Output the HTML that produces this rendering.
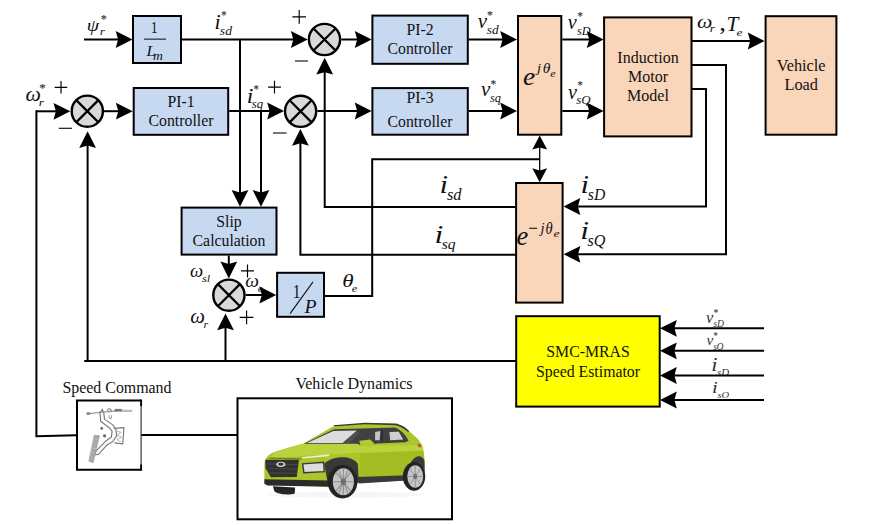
<!DOCTYPE html>
<html><head><meta charset="utf-8"><style>
html,body{margin:0;padding:0;background:#fff;width:884px;height:525px;overflow:hidden}
svg{display:block;font-family:"Liberation Serif",serif}
</style></head><body>
<svg width="884" height="525" viewBox="0 0 884 525">
<rect width="884" height="525" fill="#fff"/>
<path d="M84,39.5 L118.7,39.5" fill="none" stroke="#000" stroke-width="2.0" stroke-linejoin="miter" stroke-linecap="butt"/>
<path d="M132.50,39.50 L115.70,47.90 L118.10,39.50 L115.70,31.10Z" fill="#000"/>
<rect x="133.0" y="16.0" width="48.0" height="47.0" fill="#c6d9f1" stroke="#000" stroke-width="2.0"/>
<path d="M182,39.5 L293.9,39.5" fill="none" stroke="#000" stroke-width="2.0" stroke-linejoin="miter" stroke-linecap="butt"/>
<path d="M307.70,39.50 L290.90,47.90 L293.30,39.50 L290.90,31.10Z" fill="#000"/>
<path d="M240,39.5 L240.0,193.0" fill="none" stroke="#000" stroke-width="2.0" stroke-linejoin="miter" stroke-linecap="butt"/>
<path d="M240.00,206.80 L231.60,190.00 L240.00,192.40 L248.40,190.00Z" fill="#000"/>
<circle cx="324.5" cy="39.5" r="15.600000000000001" fill="#d9d9d9" stroke="#000" stroke-width="2.4"/>
<path d="M313.46913421348984,28.46913421348986 L335.53086578651016,50.53086578651014 M335.53086578651016,28.46913421348986 L313.46913421348984,50.53086578651014" stroke="#000" stroke-width="2.3"/>
<path d="M341.3,39.5 L357.8,39.5" fill="none" stroke="#000" stroke-width="2.0" stroke-linejoin="miter" stroke-linecap="butt"/>
<path d="M371.60,39.50 L354.80,47.90 L357.20,39.50 L354.80,31.10Z" fill="#000"/>
<rect x="372.4" y="15.6" width="95.40000000000003" height="48.199999999999996" fill="#c6d9f1" stroke="#000" stroke-width="2.0"/>
<path d="M468.6,39.5 L503.2,39.5" fill="none" stroke="#000" stroke-width="2.0" stroke-linejoin="miter" stroke-linecap="butt"/>
<path d="M517.00,39.50 L500.20,47.90 L502.60,39.50 L500.20,31.10Z" fill="#000"/>
<rect x="518.0" y="16.0" width="43.299999999999955" height="118.69999999999999" fill="#f9d5ba" stroke="#000" stroke-width="2.0"/>
<path d="M562.3,39.5 L589.8000000000001,39.5" fill="none" stroke="#000" stroke-width="2.0" stroke-linejoin="miter" stroke-linecap="butt"/>
<path d="M603.60,39.50 L586.80,47.90 L589.20,39.50 L586.80,31.10Z" fill="#000"/>
<rect x="604.1" y="17.4" width="87.39999999999998" height="119.0" fill="#f9d5ba" stroke="#000" stroke-width="2.0"/>
<path d="M692,41 L750.8000000000001,41.0" fill="none" stroke="#000" stroke-width="2.0" stroke-linejoin="miter" stroke-linecap="butt"/>
<path d="M764.60,41.00 L747.80,49.40 L750.20,41.00 L747.80,32.60Z" fill="#000"/>
<rect x="765.6" y="16.2" width="70.79999999999995" height="118.49999999999999" fill="#f9d5ba" stroke="#000" stroke-width="2.0"/>
<path d="M36.4,111.3 L56.5,111.3" fill="none" stroke="#000" stroke-width="2.0" stroke-linejoin="miter" stroke-linecap="butt"/>
<path d="M70.30,111.30 L53.50,119.70 L55.90,111.30 L53.50,102.90Z" fill="#000"/>
<circle cx="87.3" cy="111.2" r="15.600000000000001" fill="#d9d9d9" stroke="#000" stroke-width="2.4"/>
<path d="M76.26913421348985,100.16913421348985 L98.33086578651015,122.23086578651015 M98.33086578651015,100.16913421348985 L76.26913421348985,122.23086578651015" stroke="#000" stroke-width="2.3"/>
<path d="M104,111.2 L118.89999999999999,111.2" fill="none" stroke="#000" stroke-width="2.0" stroke-linejoin="miter" stroke-linecap="butt"/>
<path d="M132.70,111.20 L115.90,119.60 L118.30,111.20 L115.90,102.80Z" fill="#000"/>
<rect x="133.7" y="88.0" width="94.5" height="46.80000000000001" fill="#c6d9f1" stroke="#000" stroke-width="2.0"/>
<path d="M229.2,111 L270.2,111.0" fill="none" stroke="#000" stroke-width="2.0" stroke-linejoin="miter" stroke-linecap="butt"/>
<path d="M284.00,111.00 L267.20,119.40 L269.60,111.00 L267.20,102.60Z" fill="#000"/>
<path d="M261,111 L261.0,193.0" fill="none" stroke="#000" stroke-width="2.0" stroke-linejoin="miter" stroke-linecap="butt"/>
<path d="M261.00,206.80 L252.60,190.00 L261.00,192.40 L269.40,190.00Z" fill="#000"/>
<circle cx="300.6" cy="111.3" r="15.600000000000001" fill="#d9d9d9" stroke="#000" stroke-width="2.4"/>
<path d="M289.56913421348986,100.26913421348985 L311.6308657865102,122.33086578651015 M311.6308657865102,100.26913421348985 L289.56913421348986,122.33086578651015" stroke="#000" stroke-width="2.3"/>
<path d="M317.3,111 L357.8,111.0" fill="none" stroke="#000" stroke-width="2.0" stroke-linejoin="miter" stroke-linecap="butt"/>
<path d="M371.60,111.00 L354.80,119.40 L357.20,111.00 L354.80,102.60Z" fill="#000"/>
<rect x="372.4" y="88.1" width="95.40000000000003" height="46.599999999999994" fill="#c6d9f1" stroke="#000" stroke-width="2.0"/>
<path d="M468.6,111 L503.2,111.0" fill="none" stroke="#000" stroke-width="2.0" stroke-linejoin="miter" stroke-linecap="butt"/>
<path d="M517.00,111.00 L500.20,119.40 L502.60,111.00 L500.20,102.60Z" fill="#000"/>
<path d="M562.3,111 L589.8000000000001,111.0" fill="none" stroke="#000" stroke-width="2.0" stroke-linejoin="miter" stroke-linecap="butt"/>
<path d="M603.60,111.00 L586.80,119.40 L589.20,111.00 L586.80,102.60Z" fill="#000"/>
<path d="M692,64.9 L726,64.9 L726,254.3 L577.4,254.3" fill="none" stroke="#000" stroke-width="2.0" stroke-linejoin="miter" stroke-linecap="butt"/>
<path d="M563.60,254.30 L580.40,245.90 L578.00,254.30 L580.40,262.70Z" fill="#000"/>
<path d="M692,89 L706,89 L706,206.5 L577.3,206.5" fill="none" stroke="#000" stroke-width="2.0" stroke-linejoin="miter" stroke-linecap="butt"/>
<path d="M563.50,206.50 L580.30,198.10 L577.90,206.50 L580.30,214.90Z" fill="#000"/>
<rect x="516.1" y="183.0" width="46.5" height="119.60000000000002" fill="#f9d5ba" stroke="#000" stroke-width="2.0"/>
<path d="M515.6,207 L324.7,207 L324.7,71.6" fill="none" stroke="#000" stroke-width="2.0" stroke-linejoin="miter" stroke-linecap="butt"/>
<path d="M324.70,57.80 L333.10,74.60 L324.70,72.20 L316.30,74.60Z" fill="#000"/>
<path d="M515.6,254.7 L300.4,254.7 L300.4,142.70000000000002" fill="none" stroke="#000" stroke-width="2.0" stroke-linejoin="miter" stroke-linecap="butt"/>
<path d="M300.40,128.90 L308.80,145.70 L300.40,143.30 L292.00,145.70Z" fill="#000"/>
<path d="M539.7,146 L539.7,172" fill="none" stroke="#000" stroke-width="1.3" stroke-linejoin="miter" stroke-linecap="butt"/>
<path d="M539.70,135.60 L547.10,149.60 L539.70,147.40 L532.30,149.60Z" fill="#000"/>
<path d="M539.70,182.20 L532.30,168.20 L539.70,170.40 L547.10,168.20Z" fill="#000"/>
<path d="M539.6,159.2 L372.2,159.2 L372.2,295.9 L325,295.9" fill="none" stroke="#000" stroke-width="2.0" stroke-linejoin="miter" stroke-linecap="butt"/>
<rect x="181.6" y="207.6" width="94.9" height="47.0" fill="#c6d9f1" stroke="#000" stroke-width="2.0"/>
<path d="M228.8,255.6 L228.8,264.59999999999997" fill="none" stroke="#000" stroke-width="2.0" stroke-linejoin="miter" stroke-linecap="butt"/>
<path d="M228.80,278.40 L220.40,261.60 L228.80,264.00 L237.20,261.60Z" fill="#000"/>
<circle cx="228.9" cy="295.2" r="15.600000000000001" fill="#d9d9d9" stroke="#000" stroke-width="2.4"/>
<path d="M217.86913421348987,284.1691342134898 L239.93086578651014,306.23086578651015 M239.93086578651014,284.1691342134898 L217.86913421348987,306.23086578651015" stroke="#000" stroke-width="2.3"/>
<path d="M245.7,295 L262.4,295.0" fill="none" stroke="#000" stroke-width="2.0" stroke-linejoin="miter" stroke-linecap="butt"/>
<path d="M276.20,295.00 L259.40,303.40 L261.80,295.00 L259.40,286.60Z" fill="#000"/>
<rect x="277.1" y="272.8" width="46.89999999999998" height="44.0" fill="#c6d9f1" stroke="#000" stroke-width="2.0"/>
<path d="M84.2,361.1 L516,361.1" fill="none" stroke="#000" stroke-width="2.0" stroke-linejoin="miter" stroke-linecap="butt"/>
<path d="M87.6,361.1 L87.6,145.0" fill="none" stroke="#000" stroke-width="2.0" stroke-linejoin="miter" stroke-linecap="butt"/>
<path d="M87.60,131.20 L96.00,148.00 L87.60,145.60 L79.20,148.00Z" fill="#000"/>
<path d="M225.5,361.1 L225.5,327.2" fill="none" stroke="#000" stroke-width="2.0" stroke-linejoin="miter" stroke-linecap="butt"/>
<path d="M225.50,313.40 L233.90,330.20 L225.50,327.80 L217.10,330.20Z" fill="#000"/>
<rect x="516.2" y="316.2" width="143.5" height="90.40000000000003" fill="#ffff00" stroke="#000" stroke-width="2.0"/>
<text transform="translate(705.95,323.23) scale(0.970,1)" font-size="17.02" fill="#333" style="font-style:italic;">v</text>
<text transform="translate(713.66,315.52) scale(0.840,1)" font-size="10.41" fill="#444" style="stroke:#444;stroke-width:0.15px">*</text>
<text transform="translate(713.20,326.89) scale(0.866,1)" font-size="11.13" fill="#333" style="font-style:italic;">sD</text>
<text transform="translate(706.47,344.66) scale(1.093,1)" font-size="14.04" fill="#333" style="font-style:italic;">v</text>
<text transform="translate(713.62,339.32) scale(0.800,1)" font-size="10.41" fill="#444" style="stroke:#444;stroke-width:0.15px">*</text>
<text transform="translate(713.21,349.50) scale(0.940,1)" font-size="9.85" fill="#333" style="font-style:italic;">sO</text>
<text transform="translate(711.31,371.10) scale(1.250,1)" font-size="18.03" fill="#333" style="font-style:italic;">i</text>
<text transform="translate(716.99,376.40) scale(1.134,1)" font-size="9.62" fill="#333" style="font-style:italic;">sD</text>
<text transform="translate(712.05,393.40) scale(1.250,1)" font-size="16.52" fill="#333" style="font-style:italic;">i</text>
<text transform="translate(717.49,398.11) scale(1.241,1)" font-size="8.51" fill="#333" style="font-style:italic;">sO</text>
<path d="M764,328.3 L673.8,328.3" fill="none" stroke="#000" stroke-width="2.0" stroke-linejoin="miter" stroke-linecap="butt"/>
<path d="M660.00,328.30 L676.80,319.90 L674.40,328.30 L676.80,336.70Z" fill="#000"/>
<path d="M764,350.8 L673.8,350.8" fill="none" stroke="#000" stroke-width="2.0" stroke-linejoin="miter" stroke-linecap="butt"/>
<path d="M660.00,350.80 L676.80,342.40 L674.40,350.80 L676.80,359.20Z" fill="#000"/>
<path d="M764,375.5 L673.8,375.5" fill="none" stroke="#000" stroke-width="2.0" stroke-linejoin="miter" stroke-linecap="butt"/>
<path d="M660.00,375.50 L676.80,367.10 L674.40,375.50 L676.80,383.90Z" fill="#000"/>
<path d="M764,400 L673.8,400.0" fill="none" stroke="#000" stroke-width="2.0" stroke-linejoin="miter" stroke-linecap="butt"/>
<path d="M660.00,400.00 L676.80,391.60 L674.40,400.00 L676.80,408.40Z" fill="#000"/>
<path d="M36.4,110.3 L36.4,436.2 L76.2,435.2" fill="none" stroke="#000" stroke-width="2.0" stroke-linejoin="miter" stroke-linecap="butt"/>
<path d="M141.1,400.5 L77,400.5 L77,469.8 L141.1,469.8" fill="#fff" stroke="#000" stroke-width="2"/>
<path d="M141.1,404.5 L141.1,465.8" stroke="#444" stroke-width="1.3"/>
<path d="M141.1,399.5 L141.1,406 M141.1,464.5 L141.1,470.8" stroke="#000" stroke-width="1.9"/>
<path d="M141.4,435 L237,435" fill="none" stroke="#000" stroke-width="2.0" stroke-linejoin="miter" stroke-linecap="butt"/>
<rect x="237.5" y="398.3" width="214.5" height="120.99999999999994" fill="#fff" stroke="#000" stroke-width="2.0"/>
<g transform="translate(84,405) scale(0.11416)" fill="none" stroke="#808080" stroke-width="9" stroke-linecap="round" stroke-linejoin="round">
<path d="M40,76 L330,46" stroke="#777" stroke-width="8"/>
<path d="M330,44 L420,46 L420,56 L330,56 Z" fill="#ccc" stroke="#999" stroke-width="5"/>
<rect x="22" y="64" width="32" height="22" fill="#888" stroke="none"/>
<path d="M148,52 L160,28 L170,52 Z" fill="#666" stroke="none"/>
<circle cx="222" cy="46" r="15" fill="#eee" stroke="#777" stroke-width="8"/>
<path d="M268,34 L330,34 L330,58 L268,58 Z" fill="#777" stroke="none"/>
<path d="M220,92 L222,118 L240,118 L242,92" stroke="#888" stroke-width="7"/>
<path d="M140,60 L146,142 L226,204 L246,230 L240,280 L186,320 L108,400 L94,436 L128,432 L204,348 L250,322 L286,272 L278,208 L252,174 L180,124 L172,60 Z" fill="#fbfbfb" stroke="#7a7a7a" stroke-width="10"/>
<path d="M265,205 L350,198 L340,340 L270,332" stroke="#7a7a7a" stroke-width="10"/>
<path d="M285,225 L325,240 L290,262 L330,282 L288,302 L320,320" stroke="#999" stroke-width="6"/>
<path d="M92,265 L135,270 L80,505 L45,492 Z" fill="#a8a8a8" stroke="#8a8a8a" stroke-width="5"/>
<path d="M95,300 L125,305 M90,340 L118,345 M82,380 L110,385 M74,420 L102,425 M66,460 L94,465" stroke="#d0d0d0" stroke-width="4"/>
<circle cx="155" cy="205" r="12" fill="#666" stroke="none"/>
<circle cx="180" cy="270" r="14" fill="#666" stroke="none"/>
</g>
<g transform="translate(255,415) scale(0.20362)">
<ellipse cx="440" cy="392" rx="380" ry="14" fill="#f6f6f6"/>
<path d="M46,240 C50,210 64,192 100,180 C150,165 200,150 236,141 L380,58 L540,42 L694,46 C730,58 760,80 800,118 L822,148 C832,190 836,230 833,282 L820,302 L742,322 L510,333 L480,345 L367,352 L46,340 Z" fill="#abc52a"/>
<path d="M100,180 C150,165 200,150 236,141 L500,142 L560,150 L820,148 L826,175 L520,185 L250,200 L70,215 Z" fill="#b9d23e"/>
<path d="M520,190 L826,175 L832,262 L745,300 L510,318 Z" fill="#a2bc22"/>
<path d="M385,50 L540,38 L694,42 C722,50 742,62 758,80 L752,84 C736,68 716,56 692,50 L540,46 L390,56 Z" fill="#3a3a3a"/>
<path d="M240,141 L388,70 L690,62 C720,76 740,98 754,126 L740,134 L600,140 L522,152 L505,141 Z" fill="#404040"/>
<path d="M255,138 L385,78 L500,76 L430,138 Z" fill="#dcdcdf"/>
<path d="M436,138 L500,80 L518,80 L466,138 Z" fill="#505050"/>
<path d="M590,84 L616,78 L612,124 L590,124 Z" fill="#c4c4c4"/>
<path d="M660,84 L706,82 L728,120 L664,124 Z" fill="#cfcfcf"/>
<path d="M620,72 L628,72 L626,134 L618,134 Z" fill="#2a2a2a"/>
<path d="M512,126 L566,120 L586,140 L570,154 L518,152 Z" fill="#b0ca30"/>
<path d="M228,207 L367,193 L362,203 L236,214 Z" fill="#eef0d8"/>
<path d="M70,212 L228,216" stroke="#6f7f18" stroke-width="6" fill="none"/>
<path d="M50,220 L216,220 L205,304 L78,306 L52,262 Z" fill="#2f322f"/>
<path d="M58,240 L212,244 M62,262 L210,266 M68,284 L207,287" stroke="#4a4d4a" stroke-width="4"/>
<ellipse cx="127" cy="242" rx="22" ry="13" fill="#d8dbd8"/>
<ellipse cx="127" cy="242" rx="14" ry="7" fill="#2f322f"/>
<path d="M234,240 L337,232 L340,278 L240,284 Z" fill="#dcdcdc" stroke="#3a3a3a" stroke-width="7"/>
<path d="M350,236 L364,233 L362,258 L348,260 Z" fill="#e59020"/>
<path d="M340,240 C370,205 470,190 505,240 L510,330 L480,345 L360,352 Z" fill="#383a37"/>
<path d="M745,300 C752,210 815,175 832,225 L833,284 L800,302 Z" fill="#383a37"/>
<path d="M500,305 L745,296 L745,322 L510,336 Z" fill="#383a37"/>
<path d="M46,316 L367,322 L367,352 L60,346 L46,336 Z" fill="#2b2d2a"/>
<path d="M88,350 L197,356 L195,385 C170,394 115,392 95,375 Z" fill="#242424"/>
<ellipse cx="430" cy="328" rx="73" ry="82" fill="#232323"/>
<ellipse cx="434" cy="328" rx="52" ry="66" fill="#c4c4c6"/>
<path d="M434,264 L434,392 M383,328 L485,328 M398,282 L470,374 M470,282 L398,374 M410,268 L458,388 M458,268 L410,388" stroke="#8e8e90" stroke-width="5"/>
<ellipse cx="434" cy="328" rx="13" ry="16" fill="#707070"/>
<ellipse cx="781" cy="302" rx="55" ry="70" fill="#232323"/>
<ellipse cx="787" cy="302" rx="39" ry="55" fill="#c4c4c6"/>
<path d="M787,248 L787,356 M749,302 L825,302 M760,262 L814,342 M814,262 L760,342" stroke="#8e8e90" stroke-width="4"/>
<ellipse cx="787" cy="302" rx="10" ry="13" fill="#707070"/>
<path d="M798,140 L814,146 L816,160 L802,156 Z" fill="#c44"/>
</g>
<text x="420" y="34.8" font-size="15.8" text-anchor="middle" style="" fill="#111">PI-2</text>
<text x="420" y="53.5" font-size="15.8" text-anchor="middle" style="" fill="#111">Controller</text>
<text x="420" y="103" font-size="15.8" text-anchor="middle" style="" fill="#111">PI-3</text>
<text x="420" y="127.3" font-size="15.8" text-anchor="middle" style="" fill="#111">Controller</text>
<text x="181" y="106.8" font-size="15.8" text-anchor="middle" style="" fill="#111">PI-1</text>
<text x="181" y="126" font-size="15.8" text-anchor="middle" style="" fill="#111">Controller</text>
<text x="229" y="226.6" font-size="15.8" text-anchor="middle" style="" fill="#111">Slip</text>
<text x="229" y="245.7" font-size="15.8" text-anchor="middle" style="" fill="#111">Calculation</text>
<text x="648" y="62.9" font-size="16.0" text-anchor="middle" style="" fill="#111">Induction</text>
<text x="648" y="81.9" font-size="16.0" text-anchor="middle" style="" fill="#111">Motor</text>
<text x="648" y="101.1" font-size="16.0" text-anchor="middle" style="" fill="#111">Model</text>
<text x="801.2" y="70.8" font-size="16.3" text-anchor="middle" style="" fill="#111">Vehicle</text>
<text x="801.2" y="90.2" font-size="16.3" text-anchor="middle" style="" fill="#111">Load</text>
<text x="588" y="356.7" font-size="15.8" text-anchor="middle" style="" fill="#111">SMC-MRAS</text>
<text x="588" y="376.5" font-size="15.8" text-anchor="middle" style="" fill="#111">Speed Estimator</text>
<text x="117" y="392.9" font-size="15.9" text-anchor="middle" style="" fill="#111">Speed Command</text>
<text x="354" y="388.6" font-size="16.05" text-anchor="middle" style="" fill="#111">Vehicle Dynamics</text>
<text transform="translate(151.06,32.90) scale(0.800,1)" font-size="16.36" fill="#111" style="">1</text>
<path d="M144,39.2 L166,39.2" stroke="#555" stroke-width="1.6"/>
<text transform="translate(146.46,55.80) scale(1.093,1)" font-size="14.96" fill="#111" style="font-style:italic;">L</text>
<text transform="translate(153.02,59.60) scale(1.145,1)" font-size="11.91" fill="#111" style="font-style:italic;">m</text>
<text transform="translate(86.82,30.90) scale(1.250,1)" font-size="15.83" fill="#111" style="font-style:italic;">ψ</text>
<text transform="translate(99.66,35.20) scale(1.214,1)" font-size="11.06" fill="#111" style="font-style:italic;">r</text>
<text transform="translate(100.80,23.03) scale(0.932,1)" font-size="12.88" fill="#333" style="stroke:#333;stroke-width:0.15px">*</text>
<text transform="translate(214.49,29.20) scale(1.055,1)" font-size="20.91" fill="#111" style="font-style:italic;">i</text>
<text transform="translate(219.86,35.07) scale(1.012,1)" font-size="13.48" fill="#111" style="font-style:italic;">sd</text>
<text transform="translate(221.16,19.32) scale(0.913,1)" font-size="11.78" fill="#333" style="stroke:#333;stroke-width:0.15px">*</text>
<text transform="translate(477.69,28.09) scale(0.994,1)" font-size="21.06" fill="#111" style="font-style:italic;">v</text>
<text transform="translate(486.87,34.18) scale(1.090,1)" font-size="12.20" fill="#111" style="font-style:italic;">sd</text>
<text transform="translate(487.01,19.32) scale(0.997,1)" font-size="11.78" fill="#333" style="stroke:#333;stroke-width:0.15px">*</text>
<text transform="translate(481.09,96.10) scale(1.035,1)" font-size="20.21" fill="#111" style="font-style:italic;">v</text>
<text transform="translate(489.88,101.79) scale(1.052,1)" font-size="11.68" fill="#111" style="font-style:italic;">sq</text>
<text transform="translate(490.44,87.75) scale(0.893,1)" font-size="12.60" fill="#333" style="stroke:#333;stroke-width:0.15px">*</text>
<text transform="translate(567.70,29.38) scale(0.923,1)" font-size="21.91" fill="#111" style="font-style:italic;">v</text>
<text transform="translate(576.88,35.08) scale(1.048,1)" font-size="11.73" fill="#111" style="font-style:italic;">sD</text>
<text transform="translate(577.46,19.72) scale(0.912,1)" font-size="11.78" fill="#333" style="stroke:#333;stroke-width:0.15px">*</text>
<text transform="translate(568.10,98.59) scale(0.970,1)" font-size="20.85" fill="#111" style="font-style:italic;">v</text>
<text transform="translate(576.27,103.87) scale(1.076,1)" font-size="12.07" fill="#111" style="font-style:italic;">sQ</text>
<text transform="translate(577.38,89.25) scale(0.833,1)" font-size="12.60" fill="#333" style="stroke:#333;stroke-width:0.15px">*</text>
<text transform="translate(696.94,27.52) scale(1.214,1)" font-size="17.92" fill="#111" style="font-style:italic;">ω</text>
<text transform="translate(709.73,32.00) scale(1.250,1)" font-size="10.85" fill="#111" style="font-style:italic;">r</text>
<text transform="translate(719.32,30.35) scale(1.203,1)" font-size="22.35" fill="#111" style="">,</text>
<text transform="translate(726.62,30.70) scale(1.017,1)" font-size="20.92" fill="#111" style="font-style:italic;">T</text>
<text transform="translate(736.51,35.69) scale(1.250,1)" font-size="10.62" fill="#111" style="font-style:italic;">e</text>
<text transform="translate(522.88,85.24) scale(1.045,1)" font-size="26.25" fill="#111" style="font-style:italic;">e</text>
<text transform="translate(537.05,72.40) scale(1.130,1)" font-size="13.03" fill="#111" style="font-style:italic;">j</text>
<text transform="translate(542.73,72.75) scale(1.027,1)" font-size="15.07" fill="#111" style="font-style:italic;">θ</text>
<text transform="translate(550.35,76.60) scale(1.132,1)" font-size="10.42" fill="#111" style="font-style:italic;">e</text>
<text transform="translate(516.51,244.83) scale(0.975,1)" font-size="27.08" fill="#111" style="font-style:italic;">e</text>
<path d="M529.1,228.3 L537.1,228.3" stroke="#111" stroke-width="1.1"/>
<text transform="translate(540.55,232.81) scale(0.991,1)" font-size="14.86" fill="#111" style="font-style:italic;">j</text>
<text transform="translate(545.47,233.54) scale(0.897,1)" font-size="16.20" fill="#111" style="font-style:italic;">θ</text>
<text transform="translate(553.49,236.59) scale(1.231,1)" font-size="11.04" fill="#111" style="font-style:italic;">e</text>
<text transform="translate(580.39,193.20) scale(1.250,1)" font-size="24.70" fill="#111" style="font-style:italic;">i</text>
<text transform="translate(587.84,199.94) scale(0.975,1)" font-size="16.09" fill="#111" style="font-style:italic;">sD</text>
<text transform="translate(580.28,238.60) scale(1.250,1)" font-size="25.30" fill="#111" style="font-style:italic;">i</text>
<text transform="translate(587.44,245.90) scale(0.994,1)" font-size="16.22" fill="#111" style="font-style:italic;">sQ</text>
<text transform="translate(439.54,193.20) scale(1.250,1)" font-size="24.70" fill="#111" style="font-style:italic;">i</text>
<text transform="translate(446.94,200.34) scale(1.047,1)" font-size="15.74" fill="#111" style="font-style:italic;">sd</text>
<text transform="translate(434.40,242.80) scale(1.250,1)" font-size="25.45" fill="#111" style="font-style:italic;">i</text>
<text transform="translate(441.64,249.47) scale(1.035,1)" font-size="15.04" fill="#111" style="font-style:italic;">sq</text>
<text transform="translate(25.54,100.70) scale(1.065,1)" font-size="20.42" fill="#111" style="font-style:italic;">ω</text>
<text transform="translate(38.68,106.00) scale(1.250,1)" font-size="10.85" fill="#111" style="font-style:italic;">r</text>
<text transform="translate(39.36,91.89) scale(0.950,1)" font-size="13.42" fill="#333" style="stroke:#333;stroke-width:0.15px">*</text>
<text transform="translate(246.70,102.60) scale(1.179,1)" font-size="20.00" fill="#111" style="font-style:italic;">i</text>
<text transform="translate(251.87,108.04) scale(0.992,1)" font-size="12.85" fill="#111" style="font-style:italic;">sq</text>
<text transform="translate(253.46,93.35) scale(0.853,1)" font-size="12.60" fill="#333" style="stroke:#333;stroke-width:0.15px">*</text>
<text transform="translate(190.05,276.71) scale(1.002,1)" font-size="18.54" fill="#111" style="font-style:italic;">ω</text>
<text transform="translate(201.98,281.59) scale(1.082,1)" font-size="11.35" fill="#111" style="font-style:italic;">sl</text>
<text transform="translate(245.32,287.21) scale(1.021,1)" font-size="18.96" fill="#111" style="font-style:italic;">ω</text>
<text transform="translate(257.87,291.50) scale(1.080,1)" font-size="10.21" fill="#111" style="font-style:italic;">e</text>
<text transform="translate(190.27,322.79) scale(0.998,1)" font-size="20.83" fill="#111" style="font-style:italic;">ω</text>
<text transform="translate(203.42,327.90) scale(1.085,1)" font-size="11.06" fill="#111" style="font-style:italic;">r</text>
<text transform="translate(292.63,297.70) scale(0.800,1)" font-size="19.39" fill="#111" style="">1</text>
<path d="M313,281.9 L290.1,313.6" stroke="#111" stroke-width="1.1"/>
<text transform="translate(304.50,313.10) scale(1.006,1)" font-size="19.54" fill="#111" style="font-style:italic;">P</text>
<text transform="translate(342.15,286.51) scale(1.197,1)" font-size="19.30" fill="#111" style="font-style:italic;">θ</text>
<text transform="translate(351.64,291.59) scale(1.071,1)" font-size="11.25" fill="#111" style="font-style:italic;">e</text>
<path d="M292.4,16.9 L306.0,16.9 M299.2,10.099999999999998 L299.2,23.7" stroke="#000" stroke-width="1.15"/>
<path d="M295.0,61 L308.0,61" stroke="#111" stroke-width="1.15"/>
<path d="M54.7,87.3 L67.3,87.3 M61,81.0 L61,93.6" stroke="#000" stroke-width="1.15"/>
<path d="M58.800000000000004,128.3 L72.0,128.3" stroke="#111" stroke-width="1.15"/>
<path d="M268.1,87.1 L280.9,87.1 M274.5,80.69999999999999 L274.5,93.5" stroke="#000" stroke-width="1.15"/>
<path d="M273.0,133 L286.6,133" stroke="#111" stroke-width="1.15"/>
<path d="M241.0,270.9 L254.0,270.9 M247.5,264.4 L247.5,277.4" stroke="#000" stroke-width="1.15"/>
<path d="M239.7,317.3 L253.5,317.3 M246.6,310.40000000000003 L246.6,324.2" stroke="#000" stroke-width="1.15"/>
</svg></body></html>
